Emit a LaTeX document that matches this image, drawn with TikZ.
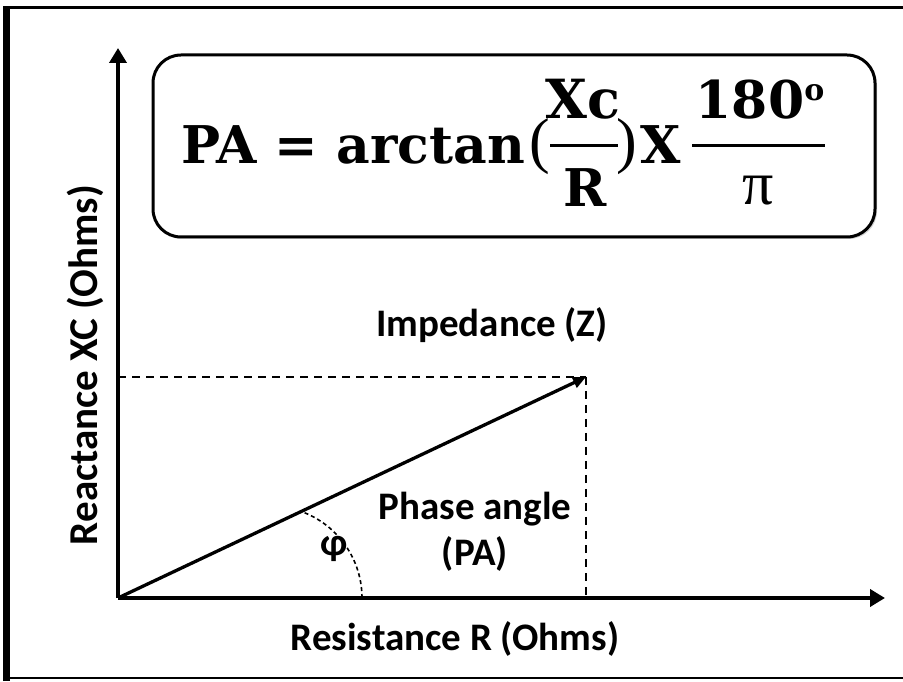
\documentclass[tikz,border=0pt]{standalone}
\usepackage{fontspec}
\setmainfont{Liberation Serif}
\newfontfamily\calib{Carlito}
\newfontfamily\formfont{DejaVu Serif}
\newfontfamily\timesf{Liberation Serif}
\usetikzlibrary{arrows.meta,shadows}
\begin{document}
\begin{tikzpicture}[x=1pt,y=1pt,
  axisline/.style={line width=4.5pt,-{Triangle[length=15pt,width=17pt]}},
  vecline/.style={line width=3.3pt,-{Triangle[length=13pt,width=11pt]}},
  guide/.style={line width=2.4pt,dash pattern=on 8pt off 6pt},
  arcline/.style={line width=1.6pt,dash pattern=on 4pt off 3pt},
  lbl/.style={font=\calib\bfseries\fontsize{39}{44}\selectfont,inner sep=0pt},
  fbold/.style={font=\formfont\bfseries\fontsize{52}{58}\selectfont,inner sep=0pt},
  freg/.style={font=\timesf\fontsize{62}{66}\selectfont,inner sep=0pt},
  fbar/.style={line width=3pt},
  formbox/.style={draw,line width=3pt,rounded corners=28pt,fill=white,
    drop shadow={shadow xshift=2pt,shadow yshift=-2pt,opacity=0.35}},
]
\useasboundingbox (0,0) rectangle (903,681);
% frame
\draw[line width=3pt] (3,673.5) -- (903,673.5);
\draw[line width=7pt] (6.5,0) -- (6.5,675);
\draw[line width=1.5pt] (3,3) -- (903,3);

% formula box
\node[formbox,minimum width=722pt,minimum height=182pt] (box) at (514,535) {};
\node[fbold,anchor=base] (pa) at (353,517) {PA = arctan};
\node[freg,anchor=base] (lp) at (540,519) {(};
\node[fbold,anchor=base,font=\formfont\bfseries\fontsize{54}{58}\selectfont] (xc) at (583,562) {Xc};
\node[fbold,anchor=base] (rr) at (585,474) {R};
\node[freg,anchor=base] (rp) at (627,519) {)};
\node[fbold,anchor=base] (xx) at (661,517) {X};
\node[fbold,anchor=base] (num) at (760,562) {180\raisebox{18pt}{\fontsize{30}{30}\selectfont o}};
\node[freg,anchor=base] (den) at (758,476) {π};
\coordinate (b1l) at (550,535);
\coordinate (b1r) at (618,535);
\coordinate (b2l) at (692,535);
\coordinate (b2r) at (825,535);
\draw[fbar] (b1l) -- (b1r);
\draw[fbar] (b2l) -- (b2r);

% axes
\coordinate (O) at (118,83);
\coordinate (ytip) at (118,633);
\coordinate (xtip) at (885,83);
\coordinate (Z) at (586,304);
\coordinate (ZY) at (118,304);
\coordinate (ZX) at (586,83);
\draw[guide] (ZY) -- (Z);
\draw[guide] (Z) -- (ZX);
\draw[axisline] (O) -- (ytip);
\draw[axisline] (O) -- (xtip);
\draw[vecline] (O) -- (Z);
\draw[arcline] (362,83) arc[start angle=0,end angle=69.6,radius=92];

% labels
\node[lbl,anchor=base] (imp) at (492,344) {Impedance (Z)};
\node[lbl,anchor=base] (ph1) at (475,161) {Phase angle};
\node[lbl,anchor=base] (ph2) at (475,116) {(PA)};
\node[lbl] (phi) at (334,132) {φ};
\node[lbl,anchor=base] (res) at (455,31) {Resistance R (Ohms)};
\node[lbl,anchor=base,rotate=90,font=\calib\bfseries\fontsize{41}{46}\selectfont] (rea) at (97,316) {Reactance XC (Ohms)};
\end{tikzpicture}
\end{document}
